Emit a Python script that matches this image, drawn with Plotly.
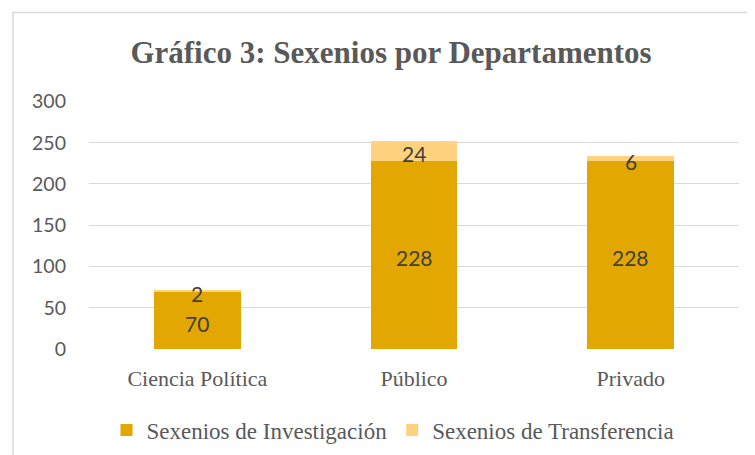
import plotly.graph_objects as go

categorias = ["Ciencia Política", "Público", "Privado"]
investigacion = [70, 228, 228]
transferencia = [2, 24, 6]
serie_nombres = ["Sexenios de Investigación", "Sexenios de Transferencia"]
y_ticks = [0, 50, 100, 150, 200, 250, 300]

col_inv = "#E2A700"
col_tra = "#FFD280"
serif = "Liberation Serif"
sans = "Lato"

fig = go.Figure()
fig.add_trace(go.Bar(x=categorias, y=investigacion, name=serie_nombres[0],
                     marker=dict(color=col_inv, line=dict(width=0))))
fig.add_trace(go.Bar(x=categorias, y=transferencia, name=serie_nombres[1],
                     marker=dict(color=col_tra, line=dict(width=0))))

# data labels centred in each segment
lbl_font = dict(family=sans, size=21, color="#404040")
for c, a, b in zip(categorias, investigacion, transferencia):
    fig.add_annotation(x=c, y=a / 2, text=str(a), showarrow=False,
                       font=lbl_font, yshift=-3)
    fig.add_annotation(x=c, y=a + b / 2, text=str(b), showarrow=False,
                       font=lbl_font, yshift=-3)

# page has an 8px body margin: work in screen coords, convert to figure coords
OFF = 8
W, H = 755 - OFF, 455 - OFF
plot_left, plot_right, plot_top, plot_bottom = 89, 739, 101, 349
L = plot_left - OFF
R = W - (plot_right - OFF)
T = plot_top - OFF
B = H - (plot_bottom - OFF)
pw, ph = W - L - R, H - T - B
ymax = 300.5

def px_x(p):
    return (p - OFF - L) / pw

def px_y(p):
    return (H - B - (p - OFF)) / ph

fig.add_shape(type="rect", xref="paper", yref="paper",
              x0=px_x(13), x1=px_x(780), y0=px_y(480), y1=px_y(12.5),
              line=dict(color="#D9D9D9", width=1.5), fillcolor="rgba(0,0,0,0)",
              layer="below")

fig.update_layout(
    width=W, height=H,
    margin=dict(l=L, r=R, t=T, b=B, autoexpand=False),
    paper_bgcolor="white", plot_bgcolor="white",
    barmode="stack", bargap=0.6,
    title=dict(text="<b>Gráfico 3: Sexenios por Departamentos</b>",
               x=(391 - OFF) / W, xanchor="center",
               y=1 - (52 - OFF) / H, yanchor="middle",
               font=dict(family=serif, size=31, color="#595959")),
    xaxis=dict(showgrid=False, showline=False, ticks="", ticklabelstandoff=14,
               tickfont=dict(family=serif, size=22, color="#595959")),
    yaxis=dict(range=[0, ymax], tickvals=y_ticks, showgrid=True,
               gridcolor="#D9D9D9", gridwidth=1, zeroline=False, showline=False,
               ticks="", ticklabelstandoff=22,
               tickfont=dict(family=sans, size=19.5, color="#595959")),
    legend=dict(orientation="h", x=px_x(393), xanchor="center", y=px_y(430),
                yanchor="middle",
                font=dict(family=serif, size=23, color="#595959"),
                itemwidth=30, traceorder="normal"),
    showlegend=True,
)

fig.write_html("out.html")
